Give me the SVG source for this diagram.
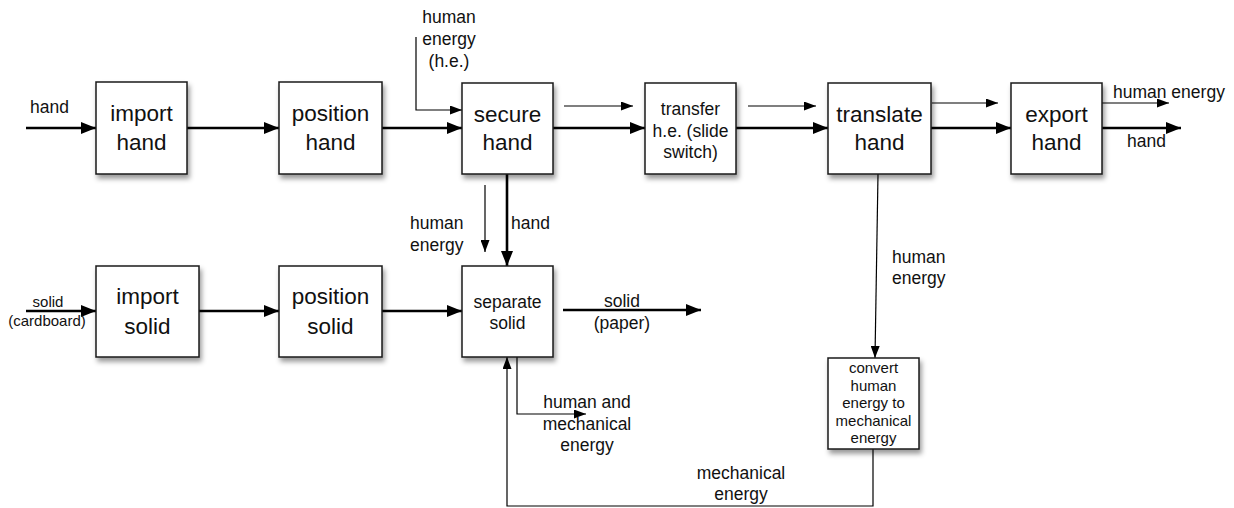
<svg xmlns="http://www.w3.org/2000/svg" width="1234" height="508" viewBox="0 0 1234 508">
<defs>
<style>
.box{fill:#fff;stroke:#1a1a1a;stroke-width:1.5;filter:url(#sh)}
.big{font-family:"Liberation Sans",Arial,sans-serif;font-size:22.5px;fill:#111;text-anchor:middle}
.mid{font-family:"Liberation Sans",Arial,sans-serif;font-size:17.5px;fill:#111;text-anchor:middle}
.sm{font-family:"Liberation Sans",Arial,sans-serif;font-size:15px;fill:#111;text-anchor:middle}
.lbl{font-family:"Liberation Sans",Arial,sans-serif;font-size:17.5px;fill:#111}
.thick{fill:none;stroke:#000;stroke-width:2.6;marker-end:url(#ah)}
.thin{fill:none;stroke:#000;stroke-width:1.2;marker-end:url(#at)}
</style>
<filter id="sh" x="-20%" y="-20%" width="150%" height="150%">
<feDropShadow dx="2" dy="4" stdDeviation="2.5" flood-color="#000" flood-opacity="0.4"/>
</filter>
<marker id="ah" markerUnits="userSpaceOnUse" markerWidth="15" markerHeight="12" refX="15" refY="6" orient="auto">
<path d="M0,0 L15,6 L0,12 z" fill="#000"/>
</marker>
<marker id="at" markerUnits="userSpaceOnUse" markerWidth="12" markerHeight="9" refX="12" refY="4.5" orient="auto">
<path d="M0,0 L12,4.5 L0,9 z" fill="#000"/>
</marker>
</defs>

<g id="connectors">
<path class="thick" d="M26,128 H96"/>
<path class="thick" d="M187,128 H279"/>
<path class="thick" d="M382,128 H462"/>
<path class="thin" d="M416,37 V110 H462"/>
<path class="thin" d="M564,106 H633"/>
<path class="thick" d="M553,128 H645"/>
<path class="thin" d="M748,106 H816"/>
<path class="thick" d="M736,128 H828"/>
<path class="thin" d="M932,103 H998"/>
<path class="thick" d="M931,128 H1011"/>
<path class="thin" d="M1102,103 H1169"/>
<path class="thick" d="M1102,128 H1181"/>
<path class="thick" d="M507,174 V266"/>
<path class="thin" d="M485,185 V252"/>
<path class="thick" d="M26,311 H96"/>
<path class="thick" d="M199,311 H279"/>
<path class="thick" d="M382,311 H462"/>
<path class="thick" d="M563,310 H701"/>
<path class="thin" d="M517,357 V414 H586"/>
<path class="thin" d="M878,174 L875,358"/>
<path class="thin" d="M873,449 V506 H507 V357"/>
</g>

<g id="labels">
<text class="lbl" x="30" y="113">hand</text>
<text class="mid" x="449" y="23">human</text>
<text class="mid" x="449" y="45">energy</text>
<text class="mid" x="449" y="67">(h.e.)</text>
<text class="lbl" x="1113" y="98">human energy</text>
<text class="lbl" x="1127" y="147">hand</text>
<text class="lbl" x="410" y="229">human</text>
<text class="lbl" x="410" y="251">energy</text>
<text class="lbl" x="511" y="229">hand</text>
<text class="lbl" x="892" y="263">human</text>
<text class="lbl" x="892" y="284">energy</text>
<text class="sm" x="48" y="307">solid</text>
<text class="sm" x="47" y="326">(cardboard)</text>
<text class="mid" x="622" y="307">solid</text>
<text class="mid" x="622" y="329">(paper)</text>
<text class="mid" x="587" y="408">human and</text>
<text class="mid" x="587" y="430">mechanical</text>
<text class="mid" x="587" y="451">energy</text>
<text class="mid" x="741" y="479">mechanical</text>
<text class="mid" x="741" y="500">energy</text>
</g>

<g id="import-hand">
<rect class="box" x="96" y="82" width="91" height="92"/>
<text class="big" x="141.5" y="121">import</text>
<text class="big" x="141.5" y="150">hand</text>
</g>
<g id="position-hand">
<rect class="box" x="279" y="82" width="103" height="92"/>
<text class="big" x="330.5" y="121">position</text>
<text class="big" x="330.5" y="150">hand</text>
</g>
<g id="secure-hand">
<rect class="box" x="462" y="83" width="91" height="91"/>
<text class="big" x="507.5" y="122">secure</text>
<text class="big" x="507.5" y="150">hand</text>
</g>
<g id="transfer">
<rect class="box" x="645" y="83" width="91" height="91"/>
<text class="mid" x="690.5" y="115">transfer</text>
<text class="mid" x="690.5" y="137">h.e. (slide</text>
<text class="mid" x="690.5" y="158">switch)</text>
</g>
<g id="translate-hand">
<rect class="box" x="828" y="83" width="103" height="91"/>
<text class="big" x="879.5" y="122">translate</text>
<text class="big" x="879.5" y="150">hand</text>
</g>
<g id="export-hand">
<rect class="box" x="1011" y="83" width="91" height="91"/>
<text class="big" x="1056.5" y="122">export</text>
<text class="big" x="1056.5" y="150">hand</text>
</g>
<g id="import-solid">
<rect class="box" x="96" y="266" width="103" height="91"/>
<text class="big" x="147.5" y="304">import</text>
<text class="big" x="147.5" y="334">solid</text>
</g>
<g id="position-solid">
<rect class="box" x="279" y="266" width="103" height="91"/>
<text class="big" x="330.5" y="304">position</text>
<text class="big" x="330.5" y="334">solid</text>
</g>
<g id="separate-solid">
<rect class="box" x="462" y="266" width="91" height="91"/>
<text class="mid" x="507.5" y="308">separate</text>
<text class="mid" x="507.5" y="329">solid</text>
</g>
<g id="convert">
<rect class="box" x="828" y="358" width="91" height="91"/>
<text class="sm" x="873.5" y="373">convert</text>
<text class="sm" x="873.5" y="391">human</text>
<text class="sm" x="873.5" y="408">energy to</text>
<text class="sm" x="873.5" y="426">mechanical</text>
<text class="sm" x="873.5" y="443">energy</text>
</g>
</svg>
